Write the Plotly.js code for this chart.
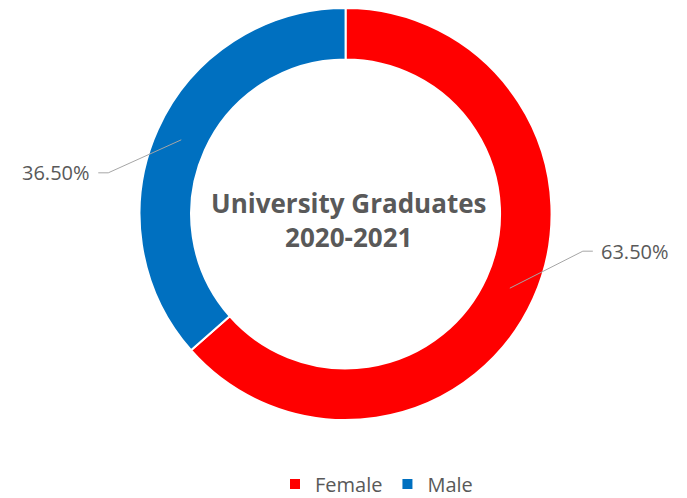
<!DOCTYPE html>
<html>
<head>
<meta charset="utf-8">
<script src="https://cdn.plot.ly/plotly-3.0.1.min.js"></script>
<style>html,body{margin:0;padding:0;background:#fff;}#chart{width:687px;height:498px;}</style>
</head>
<body>
<div id="chart"></div>
<script>
const categories = ["Female", "Male"];
const values = [63.5, 36.5];
const colors = ["#FF0000", "#0070C0"];
const centerTitle = ["University Graduates", "2020-2021"];

const W = 687, H = 498;
const M = {l: 0, r: 0, t: 8, b: 78, autoexpand: false};
const plotW = W - M.l - M.r, plotH = H - M.t - M.b;
const domX = [0.006, 1];
const cx = M.l + plotW * (domX[0] + domX[1]) / 2;
const cy = M.t + plotH / 2;
const R = Math.min(plotW * (domX[1] - domX[0]), plotH) / 2;
const hole = 0.75;
const rMid = R * (1 + hole) / 2;

function px(x) { return (x - M.l) / plotW; }
function py(y) { return 1 - (y - M.t) / plotH; }

const FONT = "'Open Sans', Lato, sans-serif";
const total = values.reduce((a, b) => a + b, 0);
const shapes = [], annotations = [];
let cum = 0;
values.forEach((v, i) => {
  const mid = (cum + v / 2) / total * 2 * Math.PI;
  cum += v;
  const sx = cx + rMid * Math.sin(mid);
  const sy = cy - rMid * Math.cos(mid);
  const right = Math.sin(mid) >= 0;
  const sgn = right ? 1 : -1;
  const ex = sx + sgn * 73;
  const ey = sy + (right ? -37 : 33);
  const hx = ex + sgn * 10;
  shapes.push({
    type: "path", xref: "paper", yref: "paper",
    path: `M ${px(sx)} ${py(sy)} L ${px(ex)} ${py(ey)} L ${px(hx)} ${py(ey)}`,
    line: {color: "#A6A6A6", width: 1}
  });
  annotations.push({
    xref: "paper", yref: "paper", x: px(hx + sgn * 6), y: py(ey),
    xanchor: right ? "left" : "right", yanchor: "middle",
    text: v.toFixed(2) + "%", showarrow: false,
    font: {family: FONT, size: 20, color: "#595959"}
  });
});

annotations.push({
  xref: "paper", yref: "paper", x: px(cx + 3), y: py(cy + 6),
  xanchor: "center", yanchor: "middle",
  text: "<b>" + centerTitle.join("<br>") + "</b>", showarrow: false,
  font: {family: FONT, size: 26, color: "#595959"}
});

const data = [{
  type: "pie",
  labels: categories,
  values: values,
  hole: hole,
  sort: false,
  direction: "clockwise",
  rotation: 0,
  textinfo: "none",
  hoverinfo: "label+percent",
  marker: {colors: colors, line: {color: "#FFFFFF", width: 2}},
  domain: {x: domX, y: [0, 1]}
}];

const layout = {
  width: W, height: H,
  margin: M,
  paper_bgcolor: "#FFFFFF",
  showlegend: true,
  legend: {
    orientation: "h", x: 0.548, xanchor: "center", y: py(484), yanchor: "middle",
    font: {family: FONT, size: 20, color: "#595959"},
    itemwidth: 30, tracegroupgap: 0
  },
  shapes: shapes,
  annotations: annotations
};

Plotly.newPlot("chart", data, layout, {displayModeBar: false});
</script>
</body>
</html>
